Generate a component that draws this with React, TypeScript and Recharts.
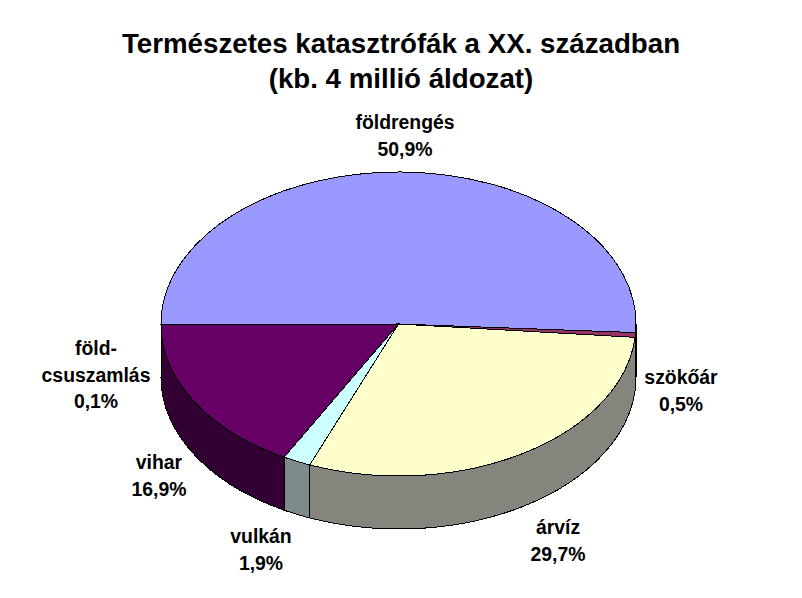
import React from "react";
import { PieChart, Pie } from "recharts";

const categories = ["földrengés", "szökőár", "árvíz", "vulkán", "vihar", "föld-\ncsuszamlás"];
const shares = [50.9, 0.5, 29.7, 1.9, 16.9, 0.1];
const topColors = ["#9999FF", "#993366", "#FFFFCC", "#CCFFFF", "#660066", "#FF8080"];
const wallColors = ["#4C4C80", "#4C1933", "url(#ditherYellow)", "url(#ditherCyan)", "#330033", "#804040"];

// where each label's first line is centred
const labelAnchors = [
  [405, 129],
  [681, 384],
  [558, 534],
  [261, 543],
  [159, 469],
  [96, 355],
];
const LINE_HEIGHT = 26.5;

const WIDTH = 802;
const HEIGHT = 598;
const CX = 398.5;
const CY = 324;
const RX = 237.5;
const RY = 152;
const DEPTH = 53;

const tableTop = categories.map((name, i) => ({ name, value: shares[i], fill: topColors[i] }));
const tableWall = categories.map((name, i) => ({ name, value: shares[i], fill: wallColors[i] }));

const pt = (deg: number, dy = 0) => {
  const a = (deg * Math.PI) / 180;
  return `${CX + RX * Math.cos(a)} ${CY - RY * Math.sin(a) + dy}`;
};

const TopSlice = (props: any) => {
  const { startAngle, endAngle, fill } = props;
  const large = startAngle - endAngle > 180 ? 1 : 0;
  const d = `M${CX} ${CY} L${pt(startAngle)} A${RX} ${RY} 0 ${large} 1 ${pt(endAngle)} Z`;
  return <path d={d} fill={fill} stroke="#000" strokeWidth={1} shapeRendering="crispEdges" />;
};

// side of the disc, only the part that faces the viewer
const WallSlice = (props: any) => {
  const s = Math.min(props.startAngle, 0);
  const e = Math.max(props.endAngle, -180);
  if (s <= e) return null;
  const d = `M${pt(s)} A${RX} ${RY} 0 0 1 ${pt(e)} L${pt(e, DEPTH)} A${RX} ${RY} 0 0 0 ${pt(s, DEPTH)} Z`;
  return <path d={d} fill={props.fill} stroke="#000" strokeWidth={1} shapeRendering="crispEdges" />;
};

const renderLabel = (props: any) => {
  const { index } = props;
  const [x, y] = labelAnchors[index];
  const lines = [...categories[index].split("\n"), `${shares[index].toFixed(1).replace(".", ",")}%`];
  return (
    <text
      key={index}
      x={x}
      y={y}
      textAnchor="middle"
      fontFamily="'Liberation Sans', Arial, sans-serif"
      fontWeight="bold"
      fontSize={19.4}
      fill="#000"
    >
      {lines.map((line, i) => (
        <tspan key={i} x={x} y={y + i * LINE_HEIGHT}>
          {line}
        </tspan>
      ))}
    </text>
  );
};

const titleStyle = {
  fontFamily: "'Liberation Sans', Arial, sans-serif",
  fontWeight: "bold",
  fontSize: 27.7,
};

export default function App() {
  return (
    <div style={{ position: "absolute", left: 0, top: 0, width: WIDTH, height: HEIGHT, background: "#fff" }}>
      <PieChart width={WIDTH} height={HEIGHT} margin={{ top: 0, right: 0, bottom: 0, left: 0 }}>
        <defs>
          <pattern id="ditherYellow" width={2} height={2} patternUnits="userSpaceOnUse">
            <rect width={2} height={2} fill="#808080" />
            <rect width={1} height={1} fill="#8A8A7A" />
            <rect x={1} y={1} width={1} height={1} fill="#8A8A7A" />
          </pattern>
          <pattern id="ditherCyan" width={2} height={2} patternUnits="userSpaceOnUse">
            <rect width={2} height={2} fill="#8C8C8C" />
            <rect width={1} height={1} fill="#6E8A8A" />
            <rect x={1} y={1} width={1} height={1} fill="#6E8A8A" />
          </pattern>
        </defs>
        <text x={401} y={53} textAnchor="middle" style={titleStyle}>
          Természetes katasztrófák a XX. században
        </text>
        <text x={401} y={88} textAnchor="middle" style={titleStyle}>
          (kb. 4 millió áldozat)
        </text>
        <Pie
          data={tableWall}
          dataKey="value"
          nameKey="name"
          cx={CX}
          cy={CY}
          outerRadius={RX}
          startAngle={180}
          endAngle={-180}
          shape={WallSlice}
          stroke="none"
          labelLine={false}
          isAnimationActive={false}
        />
        <Pie
          data={tableTop}
          dataKey="value"
          nameKey="name"
          cx={CX}
          cy={CY}
          outerRadius={RX}
          startAngle={180}
          endAngle={-180}
          shape={TopSlice}
          label={renderLabel}
          labelLine={false}
          isAnimationActive={false}
        />
      </PieChart>
    </div>
  );
}
